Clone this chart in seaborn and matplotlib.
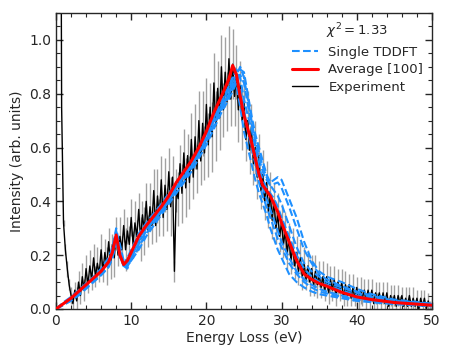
import numpy as np
import pandas as pd
import matplotlib
matplotlib.use("Agg")
import matplotlib.pyplot as plt
from matplotlib.ticker import MultipleLocator
import seaborn as sns

sns.set_style("ticks")
plt.rcParams['font.family'] = ['DejaVu Sans']

# ---- model grid (eV) ----
grid = [0, 1, 2, 3, 4, 5, 6, 7, 7.5, 8, 8.5, 9, 9.5, 10, 11, 12, 13, 14, 15, 16, 17, 18, 19, 20,
        21, 22, 23, 23.5, 24, 24.5, 25, 25.5, 26, 26.5, 27, 27.5, 28, 28.5, 29, 29.5, 30,
        31, 32, 33, 34, 35, 36, 38, 40, 42, 45, 50]

average = [0, 0.02, 0.04, 0.065, 0.09, 0.115, 0.14, 0.175, 0.21, 0.275, 0.2, 0.165, 0.18, 0.21,
           0.27, 0.31, 0.345, 0.38, 0.42, 0.47, 0.51, 0.55, 0.6, 0.66, 0.73, 0.79, 0.855,
           0.905, 0.87, 0.79, 0.72, 0.67, 0.62, 0.56, 0.5, 0.46, 0.44, 0.42, 0.39, 0.36, 0.32,
           0.25, 0.18, 0.13, 0.11, 0.095, 0.085, 0.062, 0.045, 0.035, 0.024, 0.014]

single_1 = [0, 0.015, 0.035, 0.055, 0.08, 0.105, 0.13, 0.16, 0.19, 0.24, 0.22, 0.17, 0.16, 0.18,
            0.23, 0.28, 0.32, 0.36, 0.4, 0.44, 0.48, 0.52, 0.57, 0.62, 0.68, 0.74, 0.79,
            0.82, 0.85, 0.89, 0.88, 0.8, 0.72, 0.65, 0.6, 0.55, 0.5, 0.47, 0.48, 0.49, 0.48,
            0.41, 0.34, 0.25, 0.18, 0.14, 0.12, 0.1, 0.075, 0.055, 0.035, 0.02]
single_2 = [0, 0.02, 0.04, 0.06, 0.085, 0.11, 0.135, 0.17, 0.22, 0.3, 0.23, 0.16, 0.15, 0.19,
            0.25, 0.3, 0.33, 0.37, 0.41, 0.45, 0.49, 0.53, 0.58, 0.63, 0.69, 0.75, 0.8,
            0.84, 0.87, 0.9, 0.86, 0.78, 0.7, 0.62, 0.56, 0.51, 0.48, 0.46, 0.465, 0.47, 0.45,
            0.38, 0.3, 0.22, 0.17, 0.13, 0.11, 0.085, 0.065, 0.05, 0.03, 0.018]
single_3 = [0, 0.02, 0.04, 0.06, 0.085, 0.11, 0.135, 0.165, 0.2, 0.27, 0.21, 0.155, 0.17, 0.2,
            0.26, 0.3, 0.34, 0.37, 0.41, 0.46, 0.5, 0.54, 0.59, 0.64, 0.71, 0.76, 0.82,
            0.86, 0.89, 0.86, 0.78, 0.72, 0.67, 0.6, 0.53, 0.48, 0.45, 0.43, 0.41, 0.38, 0.34,
            0.27, 0.2, 0.15, 0.12, 0.1, 0.09, 0.07, 0.05, 0.04, 0.028, 0.016]
single_4 = [0, 0.025, 0.045, 0.07, 0.095, 0.12, 0.15, 0.19, 0.23, 0.29, 0.19, 0.17, 0.19, 0.22,
            0.28, 0.32, 0.355, 0.39, 0.43, 0.47, 0.51, 0.55, 0.6, 0.65, 0.71, 0.76, 0.82,
            0.84, 0.83, 0.75, 0.66, 0.6, 0.54, 0.48, 0.43, 0.39, 0.35, 0.3, 0.26, 0.22, 0.19,
            0.13, 0.1, 0.08, 0.065, 0.055, 0.05, 0.04, 0.03, 0.025, 0.018, 0.01]
single_5 = [0, 0.015, 0.03, 0.05, 0.075, 0.1, 0.125, 0.155, 0.19, 0.25, 0.2, 0.16, 0.16, 0.19,
            0.24, 0.29, 0.33, 0.36, 0.4, 0.45, 0.49, 0.53, 0.58, 0.63, 0.7, 0.75, 0.8,
            0.83, 0.85, 0.8, 0.72, 0.66, 0.6, 0.54, 0.47, 0.42, 0.38, 0.34, 0.3, 0.26, 0.23,
            0.17, 0.13, 0.1, 0.08, 0.065, 0.058, 0.045, 0.035, 0.028, 0.02, 0.012]
single_6 = [0, 0.02, 0.035, 0.06, 0.08, 0.105, 0.13, 0.16, 0.2, 0.28, 0.24, 0.18, 0.16, 0.18,
            0.22, 0.27, 0.31, 0.35, 0.39, 0.43, 0.47, 0.51, 0.56, 0.61, 0.67, 0.73, 0.78,
            0.81, 0.84, 0.87, 0.84, 0.76, 0.69, 0.63, 0.58, 0.53, 0.49, 0.46, 0.44, 0.42, 0.39,
            0.31, 0.23, 0.17, 0.14, 0.12, 0.1, 0.08, 0.06, 0.045, 0.03, 0.017]
single_7 = [0, 0.02, 0.04, 0.065, 0.09, 0.115, 0.14, 0.175, 0.21, 0.26, 0.2, 0.17, 0.18, 0.21,
            0.27, 0.31, 0.34, 0.38, 0.42, 0.46, 0.5, 0.54, 0.59, 0.64, 0.71, 0.77, 0.83,
            0.86, 0.86, 0.82, 0.74, 0.67, 0.61, 0.56, 0.5, 0.45, 0.41, 0.37, 0.33, 0.29, 0.25,
            0.19, 0.14, 0.11, 0.09, 0.075, 0.065, 0.05, 0.04, 0.03, 0.022, 0.012]
singles = [single_1, single_2, single_3, single_4, single_5, single_6, single_7]

# ---- experiment (0.5 .. 50 eV, 0.25 eV steps) ----
exp_energy = np.linspace(0.5, 50.0, 199)
exp_intensity = [
    3.0, 0.75,
    0.32, 0.22, 0.15, 0.09,   0.05, 0.02, 0.07, 0.03,   0.10, 0.05, 0.12, 0.07,
    0.15, 0.09, 0.16, 0.11,   0.19, 0.12, 0.17, 0.13,   0.22, 0.14, 0.21, 0.16,
    0.25, 0.17, 0.24, 0.19,   0.28, 0.20, 0.27, 0.22,   0.31, 0.22, 0.29, 0.24,
    0.34, 0.24, 0.32, 0.27,   0.37, 0.26, 0.35, 0.29,   0.40, 0.29, 0.38, 0.31,
    0.44, 0.31, 0.42, 0.34,   0.48, 0.34, 0.46, 0.37,   0.51, 0.38, 0.49, 0.14,
    0.44, 0.41, 0.54, 0.43,   0.58, 0.45, 0.57, 0.47,   0.63, 0.49, 0.64, 0.52,
    0.70, 0.55, 0.69, 0.58,   0.76, 0.61, 0.75, 0.64,   0.84, 0.68, 0.82, 0.71,
    0.90, 0.74, 0.88, 0.77,   0.93, 0.78, 0.91, 0.79,   0.88, 0.74, 0.83, 0.70,
    0.77, 0.63, 0.70, 0.59,   0.67, 0.54, 0.60, 0.49,   0.57, 0.44, 0.50, 0.40,
    0.47, 0.36, 0.43, 0.33,   0.40, 0.30, 0.35, 0.27,   0.32, 0.24, 0.29, 0.21,
    0.26, 0.18, 0.23, 0.16,   0.21, 0.14, 0.19, 0.12,   0.17, 0.11, 0.16, 0.10,
    0.15, 0.09, 0.14, 0.09,   0.13, 0.08, 0.12, 0.07,   0.12, 0.06, 0.11, 0.07,
    0.11, 0.05, 0.10, 0.06,   0.10, 0.04, 0.09, 0.05,   0.09, 0.04, 0.08, 0.04,
    0.08, 0.03, 0.07, 0.04,   0.07, 0.03, 0.07, 0.03,   0.07, 0.02, 0.06, 0.03,
    0.06, 0.02, 0.06, 0.02,   0.06, 0.01, 0.05, 0.02,   0.05, 0.01, 0.05, 0.02,
    0.05, 0.01, 0.04, 0.01,   0.05, 0.01, 0.04, 0.01,   0.04, 0.00, 0.04, 0.01,
    0.04, 0.00, 0.03, 0.01,
    0.02]
exp_error = [
    0.0, 0.0,
    0.01, 0.02, 0.03, 0.02,   0.03, 0.04, 0.03, 0.05,   0.04, 0.03, 0.05, 0.04,
    0.05, 0.03, 0.06, 0.04,   0.05, 0.04, 0.06, 0.03,   0.06, 0.04, 0.05, 0.07,
    0.05, 0.06, 0.04, 0.07,   0.06, 0.04, 0.07, 0.05,   0.06, 0.08, 0.05, 0.07,
    0.07, 0.05, 0.08, 0.06,   0.06, 0.08, 0.05, 0.09,   0.07, 0.06, 0.09, 0.07,
    0.08, 0.06, 0.10, 0.07,   0.09, 0.07, 0.10, 0.08,   0.09, 0.11, 0.08, 0.04,
    0.08, 0.10, 0.07, 0.11,   0.09, 0.11, 0.08, 0.10,   0.10, 0.08, 0.12, 0.09,
    0.11, 0.09, 0.12, 0.10,   0.10, 0.12, 0.09, 0.13,   0.11, 0.13, 0.10, 0.12,
    0.12, 0.10, 0.13, 0.11,   0.12, 0.10, 0.13, 0.11,   0.10, 0.12, 0.09, 0.11,
    0.10, 0.08, 0.11, 0.09,   0.09, 0.08, 0.10, 0.08,   0.08, 0.07, 0.09, 0.07,
    0.08, 0.06, 0.08, 0.07,   0.07, 0.06, 0.08, 0.06,   0.07, 0.05, 0.07, 0.06,
    0.06, 0.05, 0.07, 0.05,   0.06, 0.05, 0.06, 0.05,   0.06, 0.04, 0.06, 0.05,
    0.05, 0.04, 0.06, 0.05,   0.05, 0.04, 0.06, 0.04,   0.05, 0.04, 0.05, 0.04,
    0.05, 0.04, 0.05, 0.03,   0.05, 0.03, 0.05, 0.04,   0.04, 0.03, 0.05, 0.03,
    0.04, 0.03, 0.05, 0.03,   0.04, 0.03, 0.04, 0.03,   0.04, 0.03, 0.04, 0.03,
    0.04, 0.03, 0.04, 0.02,   0.04, 0.02, 0.04, 0.03,   0.04, 0.02, 0.04, 0.03,
    0.03, 0.02, 0.04, 0.03,   0.03, 0.02, 0.04, 0.02,   0.03, 0.02, 0.03, 0.02,
    0.03, 0.02, 0.03, 0.02,
    0.02]

legend_title = r"$\chi^2 = 1.33$"

# ---- figure ----
fig = plt.figure(figsize=(4.49, 3.57), dpi=100)
ax = fig.add_axes([0.1247, 0.1345, 0.8373, 0.8291])

ax.errorbar(exp_energy, exp_intensity, yerr=exp_error, fmt='none',
            ecolor='#555555', elinewidth=1.0, alpha=0.55, zorder=1)
sns.lineplot(x=exp_energy, y=exp_intensity, ax=ax, color='black', lw=1.0,
             label='Experiment', zorder=2, estimator=None, sort=False)
for i, s in enumerate(singles):
    sns.lineplot(x=grid, y=s, ax=ax, color='#1E90FF', lw=1.5, linestyle='--',
                 label='Single TDDFT' if i == 0 else '_nolegend_', zorder=3,
                 estimator=None, sort=False)
sns.lineplot(x=grid, y=average, ax=ax, color='red', lw=2.2,
             label='Average [100]', zorder=4, estimator=None, sort=False)

ax.set_xlim(0, 50)
ax.set_ylim(0, 1.1)
ax.set_xlabel('Energy Loss (eV)', fontsize=10, labelpad=2)
ax.set_ylabel('Intensity (arb. units)', fontsize=10, labelpad=4)
ax.xaxis.set_major_locator(MultipleLocator(10))
ax.xaxis.set_minor_locator(MultipleLocator(2))
ax.yaxis.set_major_locator(MultipleLocator(0.2))
ax.yaxis.set_minor_locator(MultipleLocator(0.05))
ax.tick_params(which='both', direction='in', top=True, right=True, labelsize=10)
ax.tick_params(which='major', length=5, width=1)
ax.tick_params(which='minor', length=3, width=0.8)
for sp in ax.spines.values():
    sp.set_linewidth(1.0)
    sp.set_visible(True)

handles, labels = ax.get_legend_handles_labels()
order = [labels.index('Single TDDFT'), labels.index('Average [100]'), labels.index('Experiment')]
leg = ax.legend([handles[i] for i in order], [labels[i] for i in order],
                title=legend_title, loc='upper right', frameon=False, fontsize=9.5,
                title_fontsize=9.5, handlelength=2.0, borderaxespad=0.25, labelspacing=0.35)

fig.savefig('out.png', dpi=100)
